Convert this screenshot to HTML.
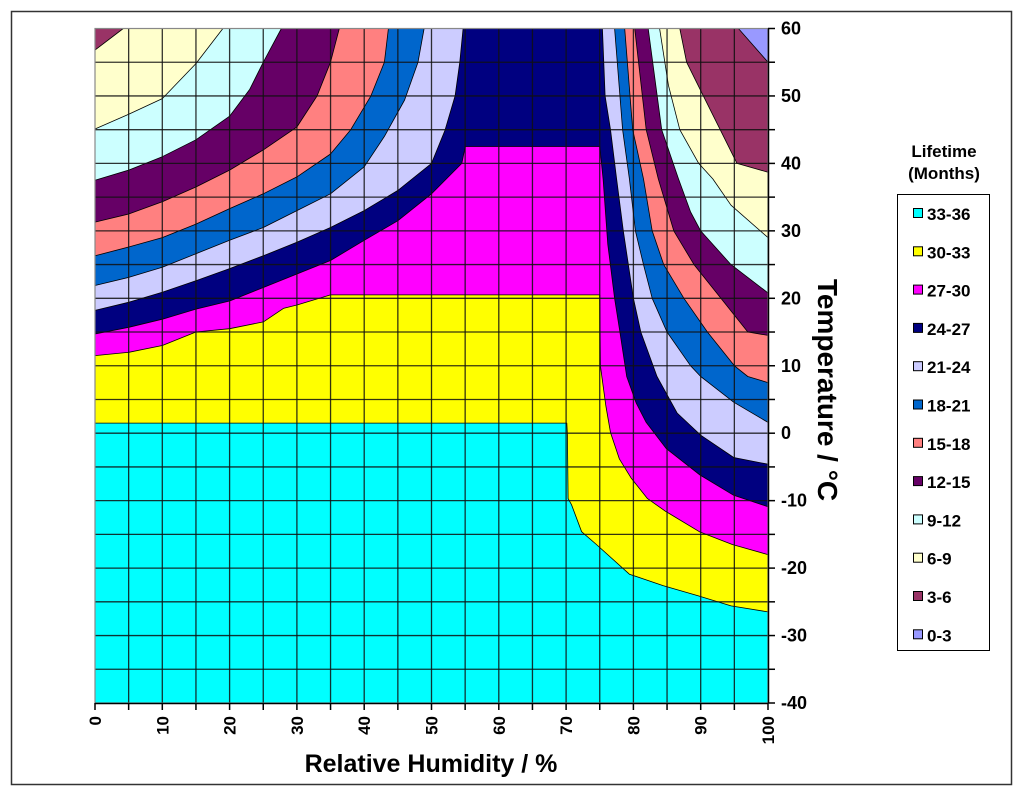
<!DOCTYPE html>
<html><head><meta charset="utf-8"><style>
html,body{margin:0;padding:0;background:#fff}
svg{display:block;font-family:"Liberation Sans",Arial,sans-serif;font-weight:bold}
</style></head><body>
<svg id="chart" width="1024" height="796" viewBox="0 0 1024 796" xmlns="http://www.w3.org/2000/svg">
<rect x="11.5" y="11.5" width="1000" height="773" fill="#fff" stroke="#333" stroke-width="1.5"/>
<g id="bands"></g>
<g id="grid"></g>
<g id="axes"></g>
<text x="431" y="772" font-size="25" text-anchor="middle">Relative Humidity / %</text>
<text transform="translate(818,390) rotate(90)" font-size="28" text-anchor="middle">Temperature  / °C</text>
<text x="944" y="157" font-size="17" text-anchor="middle">Lifetime</text>
<text x="944" y="179" font-size="17" text-anchor="middle">(Months)</text>
<rect x="897.5" y="194.5" width="92" height="456" fill="#fff" stroke="#000" stroke-width="1"/>
<g id="legend"></g>
</svg>
<script>
// Band labels and colours (lowest-lifetime first)
const bandLabels = ["0-3","3-6","6-9","9-12","12-15","15-18","18-21","21-24","24-27","27-30","30-33","33-36"];
const bandColors = ["#9999FF","#993366","#FFFFCC","#CCFFFF","#660066","#FF8080","#0066CC","#CCCCFF","#000080","#FF00FF","#FFFF00","#00FFFF"];
// Contour boundaries [RH %, T °C], each separating band k-1 (above) from band k (below)
const b3 = [[0,60],[95.6,60],[100,55]];
const b6 = [[0,56.8],[4.2,60],[86.9,60],[87.9,55],[89.9,51],[92.9,45],[95.4,40],[100,38.7]];
const b9 = [[0,45.1],[5,47.3],[10,49.6],[15,54.8],[19,60],[83.9,60],[85.2,51.6],[86.9,45],[89.7,40],[91.8,37.7],[94.5,33.8],[100,29]];
const b12 = [[0,37.5],[5,39],[10,41],[15,43.5],[20,47],[23,51],[25,55],[27.7,60],[82.2,60],[84.2,45],[86.7,37.7],[88.5,32.8],[90,30],[94.5,25],[100,20.8]];
const b15 = [[0,31.3],[5,32.5],[10,34.3],[15,36.5],[20,39],[25,42],[30,45.4],[33,50],[35,55],[36.3,60],[80.2,60],[81.9,45],[83.7,37.7],[86,30],[89,25],[93,20],[97,15],[100,14.5]];
const b18 = [[0,26.3],[5,27.6],[10,29],[15,31],[20,33.3],[25,35.5],[30,38],[35,41.4],[38,45],[41,50],[43,55],[43.6,60],[78.7,60],[79.9,45],[81.5,37.7],[82.8,30],[84.5,25],[87.5,20],[91,15],[95,10],[97,8.4],[100,7.5]];
const b21 = [[0,21.9],[5,23.1],[10,24.6],[15,26.6],[20,28.6],[25,30.5],[30,33],[35,35.5],[40,39.5],[43,44],[46,49.4],[48,55],[48.9,60],[77.2,60],[78.4,45],[79.4,37.7],[80.3,30],[81.5,25],[82.8,20],[85,15],[88.5,10],[90,8.4],[94.9,4.6],[100,1.6]];
const b24 = [[0,18.2],[5,19.4],[10,20.9],[15,22.6],[20,24.4],[25,26.3],[30,28.3],[35,30.5],[40,33],[45,36],[50,40],[52,44.9],[53.5,50],[54.2,55],[54.7,60],[75.4,60],[75.8,50],[76.6,45],[77.5,37.7],[78.5,30],[80,20],[81.1,15],[83.5,8.4],[86.5,3],[90,-0.3],[94.9,-3.6],[100,-4.6]];
const b27 = [[0,14.7],[5,15.7],[10,16.9],[15,18.4],[20,19.6],[25,21.6],[30,23.6],[35,25.6],[40,28.6],[45,31.5],[50,35.5],[54.5,40],[55,42.5],[75,42.5],[75.5,37.7],[76.2,28],[77.2,20],[78,15],[79,8.4],[80.4,4.5],[81.9,1.6],[84.9,-2.3],[89.9,-6.2],[94.9,-9.2],[100,-10.9]];
const b30 = [[0,11.5],[5,12],[10,13],[15,15],[20,15.5],[25,16.5],[28,18.5],[30,19],[35,20.5],[75,20.5],[75.1,10],[75.9,4.1],[76.6,0.1],[77.9,-3.8],[79.7,-6.7],[82.1,-9.7],[84.8,-11.6],[89.8,-14.6],[94.7,-16.5],[100,-18]];
const b33 = [[0,1.5],[70.1,1.5],[70.2,-0.3],[70.3,-9.7],[70.8,-10.6],[72.3,-14.6],[74.5,-16.5],[79.4,-20.9],[84.4,-22.6],[89.6,-24.1],[94.5,-25.6],[100,-26.5]];
const boundaries = [b3,b6,b9,b12,b15,b18,b21,b24,b27,b30,b33];
const xTicks = [0,10,20,30,40,50,60,70,80,90,100];
const yTicks = [60,50,40,30,20,10,0,-10,-20,-30,-40];

const X0=95,X1=768,Y0=28.5,Y1=703;
const xMin=0,xMax=100,tMin=-40,tMax=60;
function sx(v){return X0+(v-xMin)/(xMax-xMin)*(X1-X0);}
function sy(v){return Y1-(v-tMin)/(tMax-tMin)*(Y1-Y0);}
const NS="http://www.w3.org/2000/svg";
function mk(tag,attrs,parent){const e=document.createElementNS(NS,tag);for(const k in attrs)e.setAttribute(k,attrs[k]);parent.appendChild(e);return e;}

const bands=document.getElementById('bands');
const base=mk('rect',{x:X0,y:Y0,width:X1-X0,height:Y1-Y0,fill:bandColors[0]},bands);


boundaries.forEach((b,i)=>{
  const pts=b.map(p=>sx(p[0]).toFixed(1)+','+sy(p[1]).toFixed(1));
  pts.push(sx(xMax)+','+sy(tMin));pts.push(sx(xMin)+','+sy(tMin));
  const poly=mk('polygon',{points:pts.join(' '),fill:bandColors[i+1],stroke:'#000','stroke-width':0.8,'stroke-linejoin':'round'},bands);
  
  
});
const grid=document.getElementById('grid');
for(let v=5;v<100;v+=5){
  const l=mk('line',{x1:sx(v),x2:sx(v),y1:Y0,y2:Y1,stroke:'#111','stroke-width':1.3,'stroke-opacity':0.85},grid);
  
  
}
for(let v=-35;v<60;v+=5){
  const l=mk('line',{x1:X0,x2:X1,y1:sy(v),y2:sy(v),stroke:'#111','stroke-width':1.3,'stroke-opacity':0.85},grid);
  
  
}
const frame=mk('rect',{x:X0,y:Y0,width:X1-X0,height:Y1-Y0,fill:'none',stroke:'#888','stroke-width':1.2},grid);



const axes=document.getElementById('axes');
const xa=mk('line',{x1:X0,x2:X1,y1:Y1+0.5,y2:Y1+0.5,stroke:'#000','stroke-width':1.5},axes);


const ya=mk('line',{x1:X1+0.5,x2:X1+0.5,y1:Y0,y2:Y1,stroke:'#000','stroke-width':1.5},axes);


for(let v=0;v<=100;v+=5){
  const t=mk('line',{x1:sx(v),x2:sx(v),y1:Y1,y2:Y1+7,stroke:'#000','stroke-width':1.5},axes);
  
  
}
for(let v=-40;v<=60;v+=5){
  const t=mk('line',{x1:X1,x2:X1+7,y1:sy(v),y2:sy(v),stroke:'#000','stroke-width':1.5},axes);
  
  
}
xTicks.forEach(v=>{
  const t=mk('text',{transform:'translate('+(sx(v)+6)+',716) rotate(-90)','font-size':17,'text-anchor':'end'},axes);
  t.textContent=v;
  
  
});
yTicks.forEach(v=>{
  const t=mk('text',{x:781,y:sy(v)+6,'font-size':18},axes);
  t.textContent=v;
  
  
});
const legend=document.getElementById('legend');
for(let k=0;k<12;k++){
  const i=11-k, cy=214+k*38.3;
  const g=mk('g',{},legend);
  
  
  const s=mk('rect',{x:913.5,y:cy-5.5,width:9,height:9,fill:bandColors[i],stroke:'#000','stroke-width':1},g);
  
  
  const t=mk('text',{x:927,y:cy+6,'font-size':17},g);
  t.textContent=bandLabels[i];
  
  
}
</script>
</body></html>
